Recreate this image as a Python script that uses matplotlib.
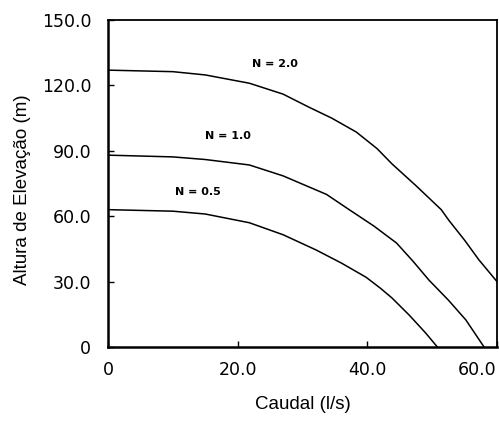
import matplotlib
matplotlib.use("Agg")
import matplotlib.pyplot as plt
from matplotlib.transforms import ScaledTranslation

plt.rcParams["font.family"] = ["Liberation Sans", "DejaVu Sans"]

# pump curves: flow (l/s) vs head (m) for each speed ratio N
q_n2 = [0, 10, 15, 21.8, 27, 31, 34.5, 38.3, 41.5, 43.8, 47.5, 51.4, 52.6, 55, 57.2, 60]
h_n2 = [127, 126.3, 124.8, 121, 116, 110, 105, 98.6, 91, 84, 74, 63, 58, 49, 40, 30]

q_n1 = [0, 10, 15, 21.8, 27, 33.7, 37.2, 41, 44.5, 47, 49.5, 52.5, 55.2, 58]
h_n1 = [88, 87.2, 86, 83.5, 78.5, 70, 63, 55.5, 47.7, 39.5, 30.7, 21.5, 12.4, 0]

q_n05 = [0, 10, 15, 21.8, 27, 32.1, 36, 39.8, 42, 43.8, 46.5, 49, 50.8]
h_n05 = [63, 62.3, 61, 57, 51.5, 44.5, 38.5, 32, 27, 22.5, 14.5, 6.4, 0]

labels = ["N = 2.0", "N = 1.0", "N = 0.5"]
label_pos = [(25.7, 130), (18.5, 97), (13.9, 71)]

xticks = [0, 20, 40, 60]
xticklabels = ["0", "20.0", "40.0", "60.0"]
yticks = [0, 30, 60, 90, 120, 150]
yticklabels = ["0", "30.0", "60.0", "90.0", "120.0", "150.0"]

fig = plt.figure(figsize=(4.99, 4.21), dpi=100)
ax = fig.add_axes([0.2164, 0.1758, 0.7796, 0.7767])

for q, h in [(q_n2, h_n2), (q_n1, h_n1), (q_n05, h_n05)]:
    ax.plot(q, h, color="black", lw=1.1)

for txt, (x, y) in zip(labels, label_pos):
    ax.text(x, y, txt, fontsize=8, fontweight="bold", family="DejaVu Sans",
            ha="center", va="center")

ax.set_xlim(0, 60)
ax.set_ylim(0, 150)
ax.set_xticks(xticks)
ax.set_xticklabels(xticklabels, family="DejaVu Sans")
ax.set_yticks(yticks)
ax.set_yticklabels(yticklabels, family="DejaVu Sans")
ax.tick_params(direction="in", length=4, width=1, labelsize=12.5, color="black")
ax.tick_params(axis="y", pad=12)
ax.tick_params(axis="x", pad=10)

# last x label sits inside the figure edge, as in the original
last = ax.get_xticklabels()[-1]
last.set_transform(last.get_transform() + ScaledTranslation(-0.2, 0, fig.dpi_scale_trans))

for side in ["left", "bottom"]:
    ax.spines[side].set_linewidth(1.8)
for side in ["top", "right"]:
    ax.spines[side].set_linewidth(1.3)

ax.set_xlabel("Caudal (l/s)", fontsize=13.5)
ax.set_ylabel("Altura de Elevação (m)", fontsize=13.5)
ax.xaxis.set_label_coords(0.5, -0.177)
ax.yaxis.set_label_coords(-0.221, 0.48)
ax.xaxis.label.set_va("center")
ax.yaxis.label.set_va("center")

plt.savefig("out.png", dpi=100, facecolor="white")
